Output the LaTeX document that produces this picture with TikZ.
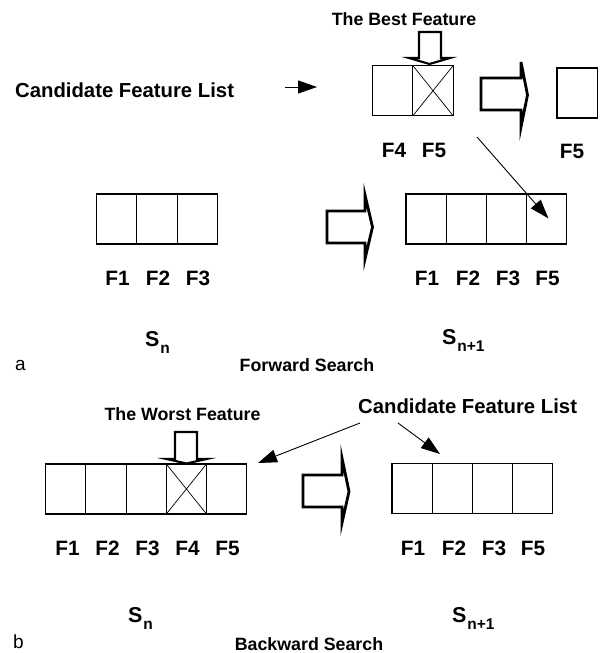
\documentclass[tikz,border=0pt]{standalone}
\usepackage{fontspec}
\setmainfont{Liberation Sans}
\usetikzlibrary{arrows.meta}
\begin{document}
\begin{tikzpicture}[x=1pt,y=-1pt,
  cell/.style={draw, line width=1.1pt, minimum width=40.2pt, minimum height=50pt,
    inner sep=0pt, outer sep=0pt, anchor=north west},
  xcell/.style={cell, path picture={\draw[line width=0.7pt]
    (path picture bounding box.north west) -- (path picture bounding box.south east)
    (path picture bounding box.north east) -- (path picture bounding box.south west);}},
  lbl/.style={font=\fontsize{20.8}{21}\selectfont\bfseries, anchor=base, inner sep=0pt},
  ttl/.style={font=\fontsize{17.8}{18}\selectfont\bfseries, anchor=base, inner sep=0pt},
  big/.style={font=\fontsize{20.3}{21}\selectfont\bfseries, anchor=base west, inner sep=0pt},
  setlbl/.style={font=\fontsize{21.5}{22}\selectfont\bfseries, anchor=base west, inner sep=0pt},
  tag/.style={font=\fontsize{19}{19}\selectfont, anchor=base west, inner sep=0pt},
  ptr/.style={line width=0.9pt, -{Triangle[length=19pt,width=13pt]}},
  block/.style={line width=2.8pt, fill=white, line join=miter},
  dblock/.style={line width=2.1pt, fill=white},
]
\useasboundingbox[fill=white] (0,0) rectangle (602,653);
\newcommand{\setname}[1]{S\kern0.8pt\raisebox{-7.5pt}{\fontsize{15.5}{16}\selectfont #1}}

% ---------- (a) forward search ----------
\node[ttl] (best) at (404,25) {The Best Feature};
\draw[dblock] (419,32) -- (441,32) -- (441,58) -- (450,58) -- (429.5,64)
  -- (409,58) -- (419,58) -- cycle;

\node[big] (candA) at (15,97) {Candidate Feature List};
\coordinate (candAs) at (285,87);
\coordinate (candAe) at (317,87);
\draw[ptr] (candAs) -- (candAe);

\node[cell]  (c4) at (372.7,65.7) {};
\node[xcell] (c5) at (412.9,65.7) {};
\node[lbl] (lc4) at (394,157) {F4};
\node[lbl] (lc5) at (434,157) {F5};

\draw[block] (481,78) -- (521,78) -- (521,62) -- (527.5,95) -- (521,127)
  -- (521,110) -- (481,110) -- cycle;

\node[cell] (best5) at (557,68) {};
\node[lbl] (lbest5) at (572,158) {F5};

% current set S_n
\node[cell] (a1) at (96.7,194) {};
\node[cell] (a2) at (136.9,194) {};
\node[cell] (a3) at (177.1,194) {};
\node[lbl] (la1) at (117.5,285) {F1};
\node[lbl] (la2) at (158,285) {F2};
\node[lbl] (la3) at (198,285) {F3};

\draw[block] (327,211) -- (365,211) -- (365,195) -- (372.5,227) -- (365,259)
  -- (365,243) -- (327,243) -- cycle;

% new set S_{n+1}
\node[cell] (b1) at (406,194) {};
\node[cell] (b2) at (446.2,194) {};
\node[cell] (b3) at (486.4,194) {};
\node[cell] (b4) at (526.6,194) {};
\node[lbl] (lb1) at (427,285) {F1};
\node[lbl] (lb2) at (468,285) {F2};
\node[lbl] (lb3) at (508,285) {F3};
\node[lbl] (lb4) at (547.5,285) {F5};

\coordinate (movS) at (477,137);
\coordinate (movE) at (548.3,218.3);
\draw[ptr] (movS) -- (movE);

\node[setlbl] (snA) at (145,346) {\setname{n}};
\node[setlbl] (snnA) at (442,344) {\setname{n+1}};
\node[tag] (tagA) at (15,370) {a};
\node[ttl] (fwd) at (307,371) {Forward Search};

% ---------- (b) backward search ----------
\node[ttl] (worst) at (182.5,420) {The Worst Feature};
\draw[dblock] (175,432) -- (197,432) -- (197,459) -- (206.5,459) -- (186.5,463.5)
  -- (166.5,459) -- (175,459) -- cycle;

\node[cell]  (d1) at (45.7,464) {};
\node[cell]  (d2) at (85.9,464) {};
\node[cell]  (d3) at (126.1,464) {};
\node[xcell] (d4) at (166.3,464) {};
\node[cell]  (d5) at (206.5,464) {};
\node[lbl] (ld1) at (67.5,555) {F1};
\node[lbl] (ld2) at (107.5,555) {F2};
\node[lbl] (ld3) at (147.5,555) {F3};
\node[lbl] (ld4) at (187.5,555) {F4};
\node[lbl] (ld5) at (227.5,555) {F5};

\draw[block] (303,475) -- (342,475) -- (342,458) -- (349,491.5) -- (342,523)
  -- (342,507) -- (303,507) -- cycle;

\node[cell] (e1) at (392,463.5) {};
\node[cell] (e2) at (432.2,463.5) {};
\node[cell] (e3) at (472.4,463.5) {};
\node[cell] (e4) at (512.6,463.5) {};
\node[lbl] (le1) at (413,555) {F1};
\node[lbl] (le2) at (454,555) {F2};
\node[lbl] (le3) at (494,555) {F3};
\node[lbl] (le4) at (533,555) {F5};

\node[big] (candB) at (358,413) {Candidate Feature List};
\coordinate (candBl) at (360,423);
\coordinate (candBr) at (398,423);
\coordinate (toOld) at (258,463);
\coordinate (toNew) at (440,454);
\draw[ptr] (candBl) -- (toOld);
\draw[ptr] (candBr) -- (toNew);

\node[setlbl] (snB) at (128,622) {\setname{n}};
\node[setlbl] (snnB) at (452,622) {\setname{n+1}};
\node[tag] (tagB) at (13,648) {b};
\node[ttl] (bwd) at (309,650) {Backward Search};
\end{tikzpicture}
\end{document}
